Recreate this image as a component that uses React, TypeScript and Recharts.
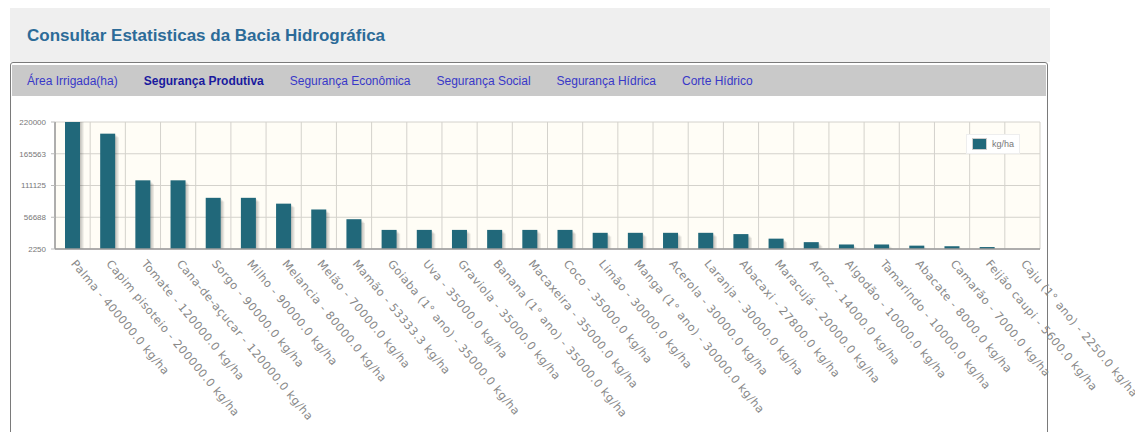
import React from "react";
import { BarChart, Bar, XAxis, YAxis, CartesianGrid, Legend } from "recharts";

const crops = [
  "Palma",
  "Capim pisoteio",
  "Tomate",
  "Cana-de-açucar",
  "Sorgo",
  "Milho",
  "Melancia",
  "Melão",
  "Mamão",
  "Goiaba (1° ano)",
  "Uva",
  "Graviola",
  "Banana (1° ano)",
  "Macaxeira",
  "Coco",
  "Limão",
  "Manga (1° ano)",
  "Acerola",
  "Laranja",
  "Abacaxi",
  "Maracujá",
  "Arroz",
  "Algodão",
  "Tamarindo",
  "Abacate",
  "Camarão",
  "Feijão caupi",
  "Caju (1° ano)",
];

const yields = [
  400000, 200000, 120000, 120000, 90000, 90000, 80000, 70000, 53333.3, 35000,
  35000, 35000, 35000, 35000, 35000, 30000, 30000, 30000, 30000, 27800, 20000,
  14000, 10000, 10000, 8000, 7000, 5600, 2250,
];

const yTicks = [2250, 56687.5, 111125, 165562.5, 220000];

const tabs = [
  "Área Irrigada(ha)",
  "Segurança Produtiva",
  "Segurança Econômica",
  "Segurança Social",
  "Segurança Hídrica",
  "Corte Hídrico",
];
const activeTab = "Segurança Produtiva";

const BAR_COLOR = "#21687a";

const data = crops.map((c, i) => ({
  label: `${c} - ${yields[i].toFixed(1)} kg/ha`,
  value: yields[i],
}));

function ShadowBar(props: any) {
  const { x, y, width, height, fill } = props;
  if (!height || height <= 0) return null;
  return (
    <g>
      {[1, 2, 3].map((d) => (
        <rect
          key={d}
          x={x + d * 1.2}
          y={y + d * 1.2}
          width={width}
          height={height}
          fill="#000"
          fillOpacity={0.08}
        />
      ))}
      <rect x={x} y={y} width={width} height={height} fill={fill} />
    </g>
  );
}

function CropTick({ x, y, payload }: any) {
  const tx = x - 2;
  const ty = y + 7;
  return (
    <text
      x={tx}
      y={ty}
      transform={`rotate(50 ${tx} ${ty})`}
      fontSize={11.3}
      letterSpacing={0.5}
      fill="#888"
      fontFamily="DejaVu Sans"
      textAnchor="start"
    >
      {payload.value}
    </text>
  );
}

function LegendBox({ payload }: any) {
  return (
    <div
      style={{
        background: "#fff",
        border: "1px solid #eee",
        padding: "3px 5px",
        display: "flex",
        alignItems: "center",
        gap: 5,
      }}
    >
      {(payload || []).map((p: any) => (
        <React.Fragment key={p.value}>
          <span
            style={{
              width: 13,
              height: 10,
              background: BAR_COLOR,
              border: "1px solid #ccc",
              display: "inline-block",
            }}
          />
          <span style={{ fontSize: 9, color: "#777", fontFamily: "Liberation Sans" }}>
            {p.value}
          </span>
        </React.Fragment>
      ))}
    </div>
  );
}

export default function App() {
  return (
    <div
      style={{
        position: "absolute",
        left: 0,
        top: 0,
        width: 1135,
        height: 432,
        overflow: "hidden",
        background: "#fff",
        fontFamily: "Liberation Sans, Arial, sans-serif",
      }}
    >
      {/* cabeçalho */}
      <div
        style={{
          position: "absolute",
          left: 10,
          top: 8,
          width: 1040,
          height: 54,
          background: "#efefef",
        }}
      />
      <div
        style={{
          position: "absolute",
          left: 27,
          top: 26,
          fontSize: 17,
          fontWeight: "bold",
          color: "#2c6b98",
        }}
      >
        Consultar Estatisticas da Bacia Hidrográfica
      </div>
      {/* painel */}
      <div
        style={{
          position: "absolute",
          left: 10,
          top: 62,
          width: 1036,
          height: 400,
          border: "1px solid #7a7a7a",
          borderRadius: 3,
        }}
      />
      <div
        style={{
          position: "absolute",
          left: 12,
          top: 65,
          width: 1034,
          height: 31,
          background: "#c9c9c9",
          display: "flex",
          alignItems: "center",
          paddingLeft: 15,
          gap: 26,
          boxSizing: "border-box",
          fontSize: 12,
        }}
      >
        {tabs.map((t) => (
          <span
            key={t}
            style={{
              color: t === activeTab ? "#1a1a9e" : "#3838c8",
              fontWeight: t === activeTab ? "bold" : "normal",
            }}
          >
            {t}
          </span>
        ))}
      </div>
      <div style={{ position: "absolute", left: 0, top: 0 }}>
        <BarChart
          width={1135}
          height={432}
          data={data}
          margin={{ top: 122, right: 95, left: 0, bottom: 0 }}
        >
          <CartesianGrid
            fill="#fffdf6"
            stroke="#d4d2cc"
            verticalCoordinatesGenerator={({ offset }: any) =>
              Array.from(
                { length: crops.length + 1 },
                (_, i) => offset.left + (i * offset.width) / crops.length
              )
            }
          />
          <XAxis
            dataKey="label"
            interval={0}
            height={183}
            tickLine={false}
            axisLine={{ stroke: "#9a9a9a", strokeWidth: 1.5 }}
            tick={<CropTick />}
          />
          <XAxis
            xAxisId="top"
            orientation="top"
            dataKey="label"
            height={0}
            tick={false}
            tickLine={false}
            axisLine={{ stroke: "#9a9a9a", strokeWidth: 1.5 }}
          />
          <YAxis
            width={55}
            domain={[2250, 220000]}
            allowDataOverflow
            ticks={yTicks}
            tickFormatter={(v: number) => String(Math.round(v))}
            tick={{ fontSize: 8, fill: "#777", fontFamily: "Liberation Sans" }}
            tickSize={4}
            tickMargin={5}
            tickLine={{ stroke: "#bbb" }}
            axisLine={{ stroke: "#9a9a9a", strokeWidth: 1.5 }}
          />
          <YAxis
            yAxisId="right"
            orientation="right"
            width={0}
            tick={false}
            tickLine={false}
            axisLine={{ stroke: "#9a9a9a", strokeWidth: 1.5 }}
          />
          <Legend
            layout="horizontal"
            verticalAlign="middle"
            align="center"
            wrapperStyle={{ left: 966, top: 134, width: "auto" }}
            content={<LegendBox />}
          />
          <Bar
            dataKey="value"
            name="kg/ha"
            fill={BAR_COLOR}
            barSize={15}
            shape={<ShadowBar />}
            isAnimationActive={false}
          />
        </BarChart>
      </div>
    </div>
  );
}
